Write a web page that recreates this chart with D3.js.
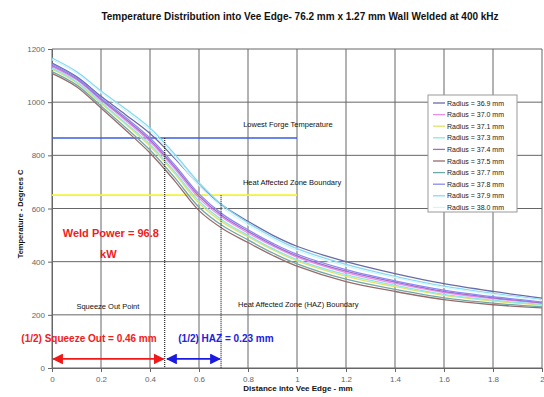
<!DOCTYPE html>
<html><head><meta charset="utf-8">
<script src="https://cdn.jsdelivr.net/npm/d3@7"></script>
<style>
html,body{margin:0;padding:0;background:#fff;}
svg{display:block;font-family:"Liberation Sans",Arial,sans-serif;}
</style></head>
<body><svg id="chart" width="544" height="397"></svg>
<script>
const distances = [0, 0.1, 0.2, 0.3, 0.4, 0.5, 0.6, 0.7, 0.8, 0.9, 1.0, 1.2, 1.4, 1.6, 1.8, 2.0];
const seriesNames = ["Radius = 36.9 mm","Radius = 37.0 mm","Radius = 37.1 mm","Radius = 37.3 mm","Radius = 37.4 mm","Radius = 37.5 mm","Radius = 37.7 mm","Radius = 37.8 mm","Radius = 37.9 mm","Radius = 38.0 mm"];
const seriesColors = ["#6a6aa8","#f08cf0","#e2e26a","#8ce6e6","#a46cc4","#9a6a6a","#70a8a8","#8a8af0","#88d8f4","#d6f6f6"];
const r369 = [1147,1096,1022,953,882,790,689,609,552,500,458,400,355,317,288,263];
const r370 = [1134,1084,1007,931,851,750,639,563,508,459,417,359,318,284,261,243];
const r371 = [1124,1073,995,917,834,732,620,546,494,445,403,345,306,273,252,236];
const r373 = [1128,1077,1000,922,841,739,628,553,499,450,408,351,311,277,255,239];
const r374 = [1138,1088,1011,937,858,757,647,569,514,464,422,364,323,288,264,245];
const r375 = [1108,1058,978,895,809,705,592,522,472,424,383,325,288,257,238,226];
const r377 = [1115,1065,986,905,820,717,605,533,482,433,392,334,296,264,244,230];
const r378 = [1143,1092,1016,943,865,765,655,576,520,470,428,370,328,293,268,248];
const r379 = [1166,1115,1042,975,903,805,697,609,546,493,449,390,345,308,281,257];
const r380 = [1160,1109,1036,967,894,795,687,600,538,486,442,383,340,303,277,254];
const seriesValues = [r369,r370,r371,r373,r374,r375,r377,r378,r379,r380];
const xTicks = [0,0.2,0.4,0.6,0.8,1,1.2,1.4,1.6,1.8,2];
const yTicks = [0,200,400,600,800,1000,1200];
const forgeTemp = 865, hazTemp = 650, forgeEnd = 1.0;
const squeezeOut = 0.46, hazEdge = 0.69;

const svg = d3.select("#chart");
const M = {left:52, right:542, top:49, bottom:368};
const x = d3.scaleLinear().domain([0,2]).range([M.left, M.right]);
const y = d3.scaleLinear().domain([0,1200]).range([M.bottom, M.top]);

// gridlines
const g = svg.append("g");
g.selectAll(".vg").data(xTicks).join("line")
  .attr("x1", d=>x(d)).attr("x2", d=>x(d)).attr("y1", y(0)).attr("y2", y(1200))
  .attr("stroke","#666").attr("stroke-width",1);
g.selectAll(".hg").data(yTicks).join("line")
  .attr("x1", x(0)).attr("x2", x(2)).attr("y1", d=>y(d)).attr("y2", d=>y(d))
  .attr("stroke","#666").attr("stroke-width",1);

// axes
const xAxis = d3.axisBottom(x).tickValues(xTicks).tickSize(4).tickFormat(d3.format("~g"));
const yAxis = d3.axisLeft(y).tickValues(yTicks).tickSize(4).tickFormat(d3.format("d"));
const gx = svg.append("g").attr("transform",`translate(0,${y(0)})`).call(xAxis);
const gy = svg.append("g").attr("transform",`translate(${x(0)},0)`).call(yAxis);
[gx,gy].forEach(a=>{
  a.select(".domain").attr("stroke","#666");
  a.selectAll(".tick line").attr("stroke","#666");
  a.selectAll("text").attr("fill","#666").style("font-size","8px").style("font-family","Liberation Sans, Arial, sans-serif");
});
gx.selectAll("text").attr("dy","0.9em");

// reference lines
svg.append("line").attr("x1",x(0)).attr("x2",x(forgeEnd)).attr("y1",y(forgeTemp)).attr("y2",y(forgeTemp))
  .attr("stroke","#3a5ee0").attr("stroke-width",1.6);
svg.append("line").attr("x1",x(0)).attr("x2",x(forgeEnd)).attr("y1",y(hazTemp)).attr("y2",y(hazTemp))
  .attr("stroke","#f4f430").attr("stroke-width",1.8);

// series
const line = d3.line().x((d,i)=>x(distances[i])).y(d=>y(d)).curve(d3.curveCatmullRom.alpha(0.5));
svg.append("g").selectAll("path").data(seriesValues).join("path")
  .attr("d", line).attr("fill","none")
  .attr("stroke",(d,i)=>seriesColors[i]).attr("stroke-width",1.3);

// dotted verticals
svg.append("line").attr("x1",x(squeezeOut)).attr("x2",x(squeezeOut)).attr("y1",y(forgeTemp)).attr("y2",y(0))
  .attr("stroke","#222").attr("stroke-width",1.2).attr("stroke-dasharray","1,1");
svg.append("line").attr("x1",x(hazEdge)).attr("x2",x(hazEdge)).attr("y1",y(hazTemp)).attr("y2",y(0))
  .attr("stroke","#222").attr("stroke-width",1.2).attr("stroke-dasharray","1,1");

// arrows
const defs = svg.append("defs");
function marker(id,color,orient){
  defs.append("marker").attr("id",id).attr("viewBox","0 0 10 10").attr("refX",9).attr("refY",5)
    .attr("markerWidth",6).attr("markerHeight",6).attr("orient",orient)
    .append("path").attr("d","M0,0L10,5L0,10Z").attr("fill",color);
}
marker("ar","#f01818","auto"); marker("ar2","#f01818","auto-start-reverse");
marker("ab","#1a1ae0","auto"); marker("ab2","#1a1ae0","auto-start-reverse");
svg.append("line").attr("x1",x(0.005)).attr("x2",x(squeezeOut-0.005)).attr("y1",y(34)).attr("y2",y(34))
  .attr("stroke","#f01818").attr("stroke-width",1.8).attr("marker-end","url(#ar)").attr("marker-start","url(#ar2)");
svg.append("line").attr("x1",x(squeezeOut+0.01)).attr("x2",x(hazEdge-0.005)).attr("y1",y(34)).attr("y2",y(34))
  .attr("stroke","#1a1ae0").attr("stroke-width",1.8).attr("marker-end","url(#ab)").attr("marker-start","url(#ab2)");

// text annotations
function txt(t,xd,yd,size,color,weight){
  return svg.append("text").attr("x",x(xd)).attr("y",y(yd)).attr("text-anchor","middle")
    .style("font-size",size+"px").style("font-weight",weight||"normal").attr("fill",color).text(t);
}
txt("Lowest Forge Temperature",0.963,907,7.5,"#111");
txt("Heat Affected Zone Boundary",0.98,688,7.5,"#111");
txt("Weld Power = 96.8",0.24,493,11,"#f02020","bold");
txt("kW",0.23,414,11,"#f02020","bold");
txt("Squeeze Out Point",0.228,222,7.5,"#111");
txt("Heat Affected Zone (HAZ) Boundary",1.005,229,7.5,"#111");
txt("(1/2) Squeeze Out = 0.46 mm",0.151,98,10,"#f02020","bold");
txt("(1/2) HAZ = 0.23 mm",0.71,98,10,"#2020dd","bold");

// title & axis labels
svg.append("text").attr("x",300).attr("y",20).attr("text-anchor","middle")
  .style("font-size","10px").style("font-weight","bold").attr("fill","#111")
  .text("Temperature Distribution into Vee Edge- 76.2 mm x 1.27 mm Wall Welded at 400 kHz");
svg.append("text").attr("x",298).attr("y",391).attr("text-anchor","middle")
  .style("font-size","8px").style("font-weight","bold").attr("fill","#111").text("Distance into Vee Edge - mm");
svg.append("text").attr("transform","translate(23,214) rotate(-90)").attr("text-anchor","middle")
  .style("font-size","7.5px").style("font-weight","bold").attr("fill","#111").text("Temperature - Degrees C");

// legend
const lg = svg.append("g");
lg.append("rect").attr("x",428).attr("y",95).attr("width",89).attr("height",117)
  .attr("fill","#fff").attr("stroke","#999").attr("stroke-width",1);
const items = lg.selectAll(".li").data(seriesNames).join("g").attr("transform",(d,i)=>`translate(0,${103+i*11.6})`);
items.append("line").attr("x1",433).attr("x2",445).attr("y1",0).attr("y2",0)
  .attr("stroke",(d,i)=>seriesColors[i]).attr("stroke-width",1.3);
items.append("text").attr("x",447).attr("y",2.5).style("font-size","7px").attr("fill","#222").text(d=>d);
</script></body></html>
